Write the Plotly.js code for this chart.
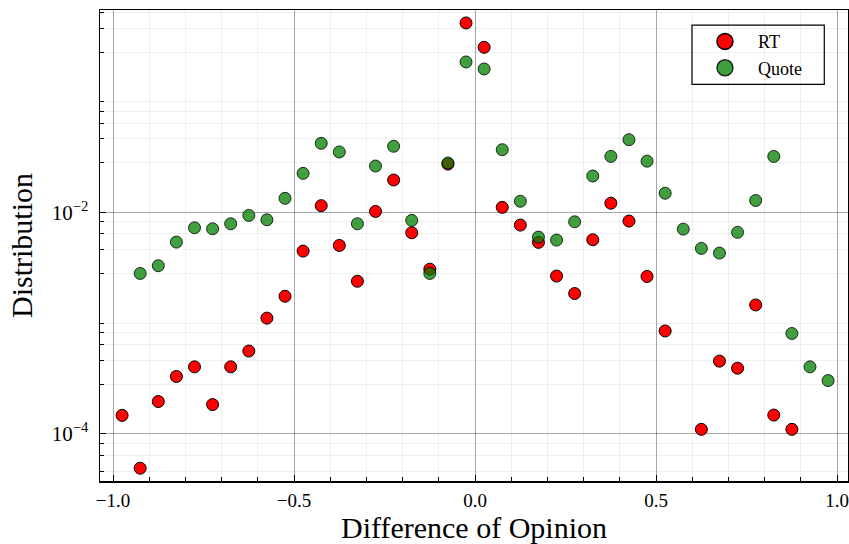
<!DOCTYPE html>
<html>
<head>
<meta charset="utf-8">
<script src="https://cdn.plot.ly/plotly-3.0.1.min.js"></script>
<style>html,body{margin:0;padding:0;background:#fff;}#chart{width:849px;height:544px;}</style>
</head>
<body>
<div id="chart"></div>
<script>
// Data
const rtX = [-0.975,-0.925,-0.875,-0.825,-0.775,-0.725,-0.675,-0.625,-0.575,-0.525,-0.475,-0.425,-0.375,-0.325,-0.275,-0.225,-0.175,-0.125,-0.075,-0.025,0.025,0.075,0.125,0.175,0.225,0.275,0.325,0.375,0.425,0.475,0.525,0.625,0.675,0.725,0.775,0.825,0.875];
const rtY = [1.47e-4,4.9e-5,1.96e-4,3.3e-4,4.03e-4,1.84e-4,4.03e-4,5.6e-4,1.11e-3,1.75e-3,4.47e-3,1.15e-2,5.03e-3,2.39e-3,1.02e-2,1.96e-2,6.55e-3,3.07e-3,2.73e-2,0.513,0.309,1.11e-2,7.68e-3,5.36e-3,2.66e-3,1.85e-3,5.66e-3,1.21e-2,8.35e-3,2.64e-3,8.5e-4,1.10e-4,4.54e-4,3.92e-4,1.46e-3,1.48e-4,1.10e-4];
const quoteX = [-0.925,-0.875,-0.825,-0.775,-0.725,-0.675,-0.625,-0.575,-0.525,-0.475,-0.425,-0.375,-0.325,-0.275,-0.225,-0.175,-0.125,-0.075,-0.025,0.025,0.075,0.125,0.175,0.225,0.275,0.325,0.375,0.425,0.475,0.525,0.575,0.625,0.675,0.725,0.775,0.825,0.875,0.925,0.975];
const quoteY = [2.81e-3,3.30e-3,5.39e-3,7.26e-3,7.11e-3,7.89e-3,9.39e-3,8.57e-3,1.34e-2,2.25e-2,4.2e-2,3.51e-2,7.89e-3,2.62e-2,3.95e-2,8.47e-3,2.81e-3,2.79e-2,0.228,0.197,3.68e-2,1.26e-2,5.98e-3,5.62e-3,8.22e-3,2.13e-2,3.2e-2,4.53e-2,2.9e-2,1.49e-2,7.06e-3,4.73e-3,4.29e-3,6.6e-3,1.28e-2,3.2e-2,8.07e-4,4.03e-4,3.03e-4];
const seriesNames = ["RT", "Quote"];
const xTickVals = [-1.0, -0.5, 0.0, 0.5, 1.0];
const xTickText = ["\u22121.0", "\u22120.5", "0.0", "0.5", "1.0"];
const yTickVals = [1e-4, 1e-2];
const yTickText = ["10<sup>\u22124</sup>", "10<sup>\u22122</sup>"];
const yMinorMult = [1, 2.8, 4.6, 6.4, 8.2];
const yMinorDecades = [1e-5, 1e-4, 1e-3, 1e-2, 1e-1];

const yMinor = [];
yMinorDecades.forEach(d => yMinorMult.forEach(m => yMinor.push(d * m)));

const FONT = "Liberation Serif, DejaVu Serif, serif";
const RED = "rgb(255,0,0)";
const GREEN = "rgba(0,128,0,0.75)";

const traces = [
  {x: rtX, y: rtY, name: seriesNames[0], type: "scatter", mode: "markers", showlegend: false,
   marker: {color: RED, size: 12, line: {color: "black", width: 1}}},
  {x: quoteX, y: quoteY, name: seriesNames[1], type: "scatter", mode: "markers", showlegend: false,
   marker: {color: GREEN, size: 12, line: {color: "rgba(0,0,0,0.8)", width: 1}}},
  // legend entries (larger legend symbols, as in the reference)
  {x: [null], y: [null], name: seriesNames[0], type: "scatter", mode: "markers",
   marker: {color: RED, size: 16, line: {color: "black", width: 1.5}}},
  {x: [null], y: [null], name: seriesNames[1], type: "scatter", mode: "markers",
   marker: {color: GREEN, size: 16, line: {color: "rgba(0,0,0,0.8)", width: 1.5}}}
];

const layout = {
  width: 849, height: 544,
  margin: {l: 100, r: 1, t: 10, b: 63},
  paper_bgcolor: "white", plot_bgcolor: "white",
  font: {family: FONT, color: "black", size: 18},
  showlegend: true,
  legend: {x: 0.7914, y: 0.972, xanchor: "left", yanchor: "top",
           borderwidth: 0, bgcolor: "rgba(0,0,0,0)", itemwidth: 56,
           font: {family: FONT, size: 18}, itemsizing: "trace"},
  shapes: [{type: "rect", xref: "paper", yref: "paper", x0: 0.7914, x1: 0.9683, y0: 0.842, y1: 0.968,
            line: {color: "black", width: 1.2}, fillcolor: "white", layer: "below"}],
  xaxis: {
    range: [-1.036, 1.03], title: {text: "Difference of Opinion", font: {family: FONT, size: 30}, standoff: 7},
    tickmode: "array", tickvals: xTickVals, ticktext: xTickText, tickfont: {size: 19},
    ticklabeloverflow: "allow",
    ticks: "inside", ticklen: 6, tickcolor: "black", tickwidth: 1, ticklabelstandoff: 2,
    showline: true, linecolor: "black", linewidth: 1.5, mirror: true,
    showgrid: true, gridcolor: "rgba(0,0,0,0.3)", gridwidth: 1, zeroline: false,
    minor: {dtick: 0.1, tick0: 0, ticks: "inside", ticklen: 4, tickcolor: "black", showgrid: true, gridcolor: "rgba(0,0,0,0.06)"}
  },
  yaxis: {
    type: "log", range: [-4.425, -0.173],
    title: {text: "Distribution", font: {family: FONT, size: 30}, standoff: 10},
    tickmode: "array", tickvals: yTickVals, ticktext: yTickText, tickfont: {size: 21},
    ticks: "inside", ticklen: 6, tickcolor: "black", tickwidth: 1, ticklabelstandoff: 6,
    showline: true, linecolor: "black", linewidth: 1.5, mirror: true,
    showgrid: true, gridcolor: "rgba(0,0,0,0.3)", gridwidth: 1, zeroline: false,
    minor: {tickmode: "array", tickvals: yMinor, ticks: "inside", ticklen: 4, tickcolor: "black", showgrid: true, gridcolor: "rgba(0,0,0,0.06)"}
  }
};

Plotly.newPlot("chart", traces, layout, {displayModeBar: false, staticPlot: true});
</script>
</body>
</html>
